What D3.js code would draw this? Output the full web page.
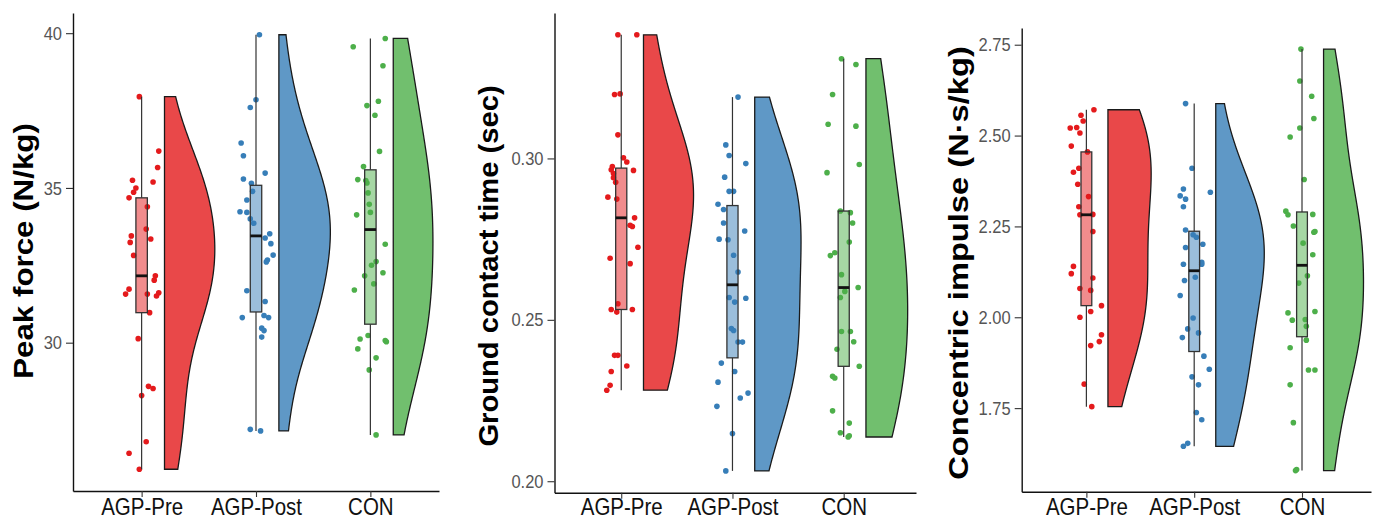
<!DOCTYPE html>
<html>
<head>
<meta charset="utf-8">
<script src="https://cdn.jsdelivr.net/npm/d3@7"></script>
<style>
  body { margin: 0; background: #fff; }
  svg { display: block; font-family: "Liberation Sans", Arial, sans-serif; }
</style>
</head>
<body>
<div id="chart"></div>
<script>
const categories = ['AGP-Pre', 'AGP-Post', 'CON'];

// Peak force (N/kg): values and horizontal jitter (hundredths of a category)
const peakPre = [37.95, 36.19, 35.66, 35.25, 35.00, 34.86, 34.68, 35.19, 34.39, 33.67, 33.45, 33.24, 33.35, 32.82, 32.16,
	32.02, 31.73, 31.57, 31.57, 31.61, 31.51, 30.97, 30.13, 28.59, 28.52, 28.29, 26.80, 26.43, 25.91];
const peakPreJit = [-2, 15, 14, -8, -5, -7, -11, 10, 5, 4, -9, -10, 8, -7, 12, 11, -11, -14, 5, 15, 13, 7, -3, 6, 10, 0, 4, -11, -2];
const peakPost = [39.95, 37.85, 37.60, 36.45, 36.04, 35.48, 35.29, 35.15, 34.89, 34.61, 34.23, 34.21, 34.00, 33.86, 33.52,
	33.38, 33.20, 32.83, 32.67, 32.61, 31.68, 31.33, 30.81, 30.88, 30.81, 30.47, 30.39, 30.18, 27.20, 27.15];
const peakPostJit = [3, 0, -5, -13, -11, 8, -11, -4, -3, -8, -14, -8, -5, -2, 12, 8, 13, 15, 10, 9, -8, 8, -12, 7, 11, 5, 7, 5, -5, 4];
const peakCon = [39.83, 39.56, 38.95, 37.80, 37.66, 37.35, 36.18, 35.69, 35.27, 35.24, 35.16, 34.84, 34.47, 34.21, 34.13,
	33.18, 32.62, 32.50, 32.26, 32.16, 31.90, 31.70, 30.23, 30.12, 30.07, 30.03, 29.80, 29.51, 29.12, 27.02];
const peakConJit = [13, -15, 11, 7, -3, 4, 8, -6, -11, -4, -3, -2, -1, 0, -12, 13, 5, 1, 11, -5, 3, -14, -2, -9, 13, 14, -11, 5, -1, 5];

// Ground contact time (sec)
const contactPre = [0.3383, 0.3383, 0.3198, 0.3200, 0.3073, 0.3002, 0.2989, 0.2975, 0.2965, 0.2963, 0.2953, 0.2940, 0.2926,
	0.2880, 0.2874, 0.2816, 0.2793, 0.2789, 0.2725, 0.2691, 0.2674, 0.2550, 0.2532, 0.2524, 0.2532, 0.2390, 0.2390, 0.2357,
	0.2340, 0.2297, 0.2282];
const contactPreJit = [-3, 14, -6, -1, -3, 2, 5, -8, -9, 11, -7, -7, -5, -12, -4, 12, 8, 10, 15, -10, 8, -3, -9, -4, 10, -6, -3,
	5, -9, -10, -13];
const contactPost = [0.3190, 0.3042, 0.3009, 0.2984, 0.2942, 0.2898, 0.2898, 0.2858, 0.2842, 0.2800, 0.2775, 0.2750, 0.2748,
	0.2700, 0.2648, 0.2569, 0.2555, 0.2567, 0.2473, 0.2467, 0.2431, 0.2431, 0.2366, 0.2340, 0.2307, 0.2273, 0.2258, 0.2232,
	0.2148, 0.2032];
const contactPostJit = [5, -6, -3, 12, -7, -3, 1, -13, -8, -8, 11, -12, -4, 1, 5, -3, 2, 12, -1, 1, 5, 9, -10, 2, -13, 14, 7, -14, 0, -6];
const contactCon = [0.3309, 0.3291, 0.3198, 0.3106, 0.3100, 0.2981, 0.2956, 0.2837, 0.2832, 0.2800, 0.2741, 0.2708, 0.2699,
	0.2640, 0.2600, 0.2588, 0.2569, 0.2464, 0.2464, 0.2432, 0.2409, 0.2356, 0.2325, 0.2320, 0.2218, 0.2180, 0.2150, 0.2137,
	0.2141];
const contactConJit = [-2, 11, -10, -14, 11, 14, -15, -3, 6, 8, 5, -8, -12, -2, 13, 1, -3, -2, 6, 9, -6, 14, -10, -8, -10, 5, -3, 4, 5];

// Concentric impulse (N·s/kg)
const impulsePre = [2.571, 2.556, 2.540, 2.521, 2.522, 2.507, 2.471, 2.455, 2.410, 2.399, 2.366, 2.332, 2.304, 2.282, 2.283,
	2.236, 2.140, 2.120, 2.108, 2.079, 2.074, 2.032, 2.016, 2.000, 1.952, 1.933, 1.922, 1.816, 1.754];
const impulsePreJit = [7, -5, -3, -15, -9, -6, -14, 1, -7, -12, -8, 2, -7, -6, 6, 6, -12, -14, 6, -6, 4, 14, 4, -6, 14, 12, 4, -2, 5];
const impulsePost = [2.588, 2.410, 2.344, 2.353, 2.334, 2.325, 2.304, 2.240, 2.227, 2.220, 2.201, 2.192, 2.146, 2.151, 2.146,
	2.110, 2.101, 2.060, 1.998, 1.968, 1.957, 1.944, 1.893, 1.857, 1.836, 1.814, 1.738, 1.718, 1.645, 1.653];
const impulsePostJit = [-8, -2, 15, -10, -13, -8, -10, -8, -1, 2, 8, -8, -10, 7, 7, 1, -9, -13, -1, -6, 4, -11, 9, 14, -2, 4, 2, 7, -10, -6];
const impulseCon = [2.738, 2.650, 2.608, 2.547, 2.521, 2.496, 2.379, 2.292, 2.282, 2.283, 2.251, 2.234, 2.236, 2.204, 2.172,
	2.114, 2.094, 2.012, 1.992, 2.016, 1.994, 1.975, 1.937, 1.916, 1.855, 1.855, 1.814, 1.710, 1.581, 1.578];
const impulseConJit = [-1, -2, 9, 11, -2, -11, 2, -15, -13, 10, -8, 11, 12, 1, 10, 5, -3, -13, -9, 12, 3, 4, 4, -11, 6, 12, -11, -8, -5, -6];

const peakTicks = [30, 35, 40];
const contactTicks = [0.20, 0.25, 0.30];
const impulseTicks = [1.75, 2.00, 2.25, 2.50, 2.75];

const titles = ['Peak force (N/kg)', 'Ground contact time (sec)', 'Concentric impulse (N·s/kg)'];

const pointColors = ['#E41A1C', '#377EB8', '#4DAF4A'];

const panels = [
	{ title: titles[0], values: [peakPre, peakPost, peakCon], jitter: [peakPreJit, peakPostJit, peakConJit],
		ticks: peakTicks, fmt: d3.format('d'), left: 73, right: 439, top: 13, bottom: 491, xmax: 3.6,
		titleX: 33, titleY: 251, titleStretch: 1.16 },
	{ title: titles[1], values: [contactPre, contactPost, contactCon], jitter: [contactPreJit, contactPostJit, contactConJit],
		ticks: contactTicks, fmt: d3.format('.2f'), left: 554.5, right: 916, top: 13, bottom: 492.7, xmax: 3.65,
		titleX: 497.5, titleY: 266, titleStretch: 1.08 },
	{ title: titles[2], values: [impulsePre, impulsePost, impulseCon], jitter: [impulsePreJit, impulsePostJit, impulseConJit],
		ticks: impulseTicks, fmt: d3.format('.2f'), left: 1021.7, right: 1371, top: 28, bottom: 491.7, xmax: 3.64,
		titleX: 967.5, titleY: 263, titleStretch: 1.21 },
];

const textStretch = 1.15;
const labelBaseline = 515;
const bwAdjust = 1.3;

const svg = d3.select('#chart').append('svg').attr('width', 1378).attr('height', 521);
svg.append('rect').attr('width', 1378).attr('height', 521).attr('fill', '#fff');

// gaussian kernel density, bandwidth like R's bw.nrd0
const nrd0 = (v) => {
	const s = d3.sort(v);
	const sd = d3.deviation(s);
	const iqr = (d3.quantileSorted(s, 0.75) - d3.quantileSorted(s, 0.25)) / 1.34;
	return 0.9 * Math.min(sd, iqr) * Math.pow(s.length, -0.2);
};
const density = (v, bw, ys) =>
	ys.map((y) => [y, d3.mean(v, (d) => Math.exp(-0.5 * ((y - d) / bw) ** 2)) / (bw * Math.sqrt(2 * Math.PI))]);

panels.forEach((p) => {
	const all = p.values.flat();
	const [lo, hi] = d3.extent(all);
	const pad = (hi - lo) * 0.05;

	const x = d3.scaleLinear().domain([0.4, p.xmax]).range([p.left, p.right]);
	const y = d3.scaleLinear().domain([lo - pad, hi + pad]).range([p.bottom, p.top]);
	const unit = x(2) - x(1);

	const g = svg.append('g');

	// half violins (scale = "area": shared max density within the panel)
	const dens = p.values.map((v) => {
		const [a, b] = d3.extent(v);
		const ys = d3.range(512).map((i) => a + ((b - a) * i) / 511);
		return density(v, nrd0(v) * bwAdjust, ys);
	});
	const maxD = d3.max(dens.flat(), (d) => d[1]);

	dens.forEach((dd, i) => {
		const x0 = x(i + 1 + 0.2);
		const pts = dd.map((d) => [x0 + (d[1] / maxD) * 0.45 * unit, y(d[0])]);
		pts.push([x0, y(dd[dd.length - 1][0])]);
		pts.push([x0, y(dd[0][0])]);
		g.append('path')
			.attr('d', d3.line()(pts) + 'Z')
			.attr('fill', pointColors[i])
			.attr('fill-opacity', 0.8)
			.attr('stroke', '#1a1a1a')
			.attr('stroke-width', 1.3);
	});

	// jittered points
	p.values.forEach((v, i) => {
		g.selectAll(null)
			.data(v)
			.enter()
			.append('circle')
			.attr('cx', (d, k) => x(i + 1 + p.jitter[i][k] / 100))
			.attr('cy', (d) => y(d))
			.attr('r', 2.8)
			.attr('fill', pointColors[i]);
	});

	// boxplots
	p.values.forEach((v, i) => {
		const s = d3.sort(v);
		const q1 = d3.quantileSorted(s, 0.25);
		const med = d3.quantileSorted(s, 0.5);
		const q3 = d3.quantileSorted(s, 0.75);
		const iqr = q3 - q1;
		const wLo = d3.min(s.filter((d) => d >= q1 - 1.5 * iqr));
		const wHi = d3.max(s.filter((d) => d <= q3 + 1.5 * iqr));
		const cx = x(i + 1);
		const hw = 0.05 * unit;

		g.append('line').attr('x1', cx).attr('x2', cx).attr('y1', y(q3)).attr('y2', y(wHi))
			.attr('stroke', '#333').attr('stroke-width', 1.2);
		g.append('line').attr('x1', cx).attr('x2', cx).attr('y1', y(q1)).attr('y2', y(wLo))
			.attr('stroke', '#333').attr('stroke-width', 1.2);
		g.append('rect')
			.attr('x', cx - hw).attr('width', 2 * hw)
			.attr('y', y(q3)).attr('height', y(q1) - y(q3))
			.attr('fill', pointColors[i]).attr('fill-opacity', 0.5)
			.attr('stroke', '#333').attr('stroke-width', 1.3);
		g.append('line').attr('x1', cx - hw).attr('x2', cx + hw).attr('y1', y(med)).attr('y2', y(med))
			.attr('stroke', '#111').attr('stroke-width', 2.8);
	});

	// axes
	const yAxis = g.append('g')
		.attr('transform', `translate(${p.left},0)`)
		.call(d3.axisLeft(y).tickValues(p.ticks).tickFormat(p.fmt).tickSize(7).tickSizeOuter(0).tickPadding(4));
	yAxis.select('.domain').attr('stroke', '#111').attr('stroke-width', 1.4);
	yAxis.selectAll('.tick line').attr('stroke', '#333').attr('stroke-width', 1.1);
	yAxis.selectAll('.tick text')
		.attr('fill', '#555')
		.style('font-size', '16.5px')
		.attr('transform', `scale(1,${textStretch})`);

	const xAxis = g.append('g')
		.attr('transform', `translate(0,${p.bottom})`)
		.call(d3.axisBottom(x).tickValues([1, 2, 3]).tickFormat((d) => categories[d - 1]).tickSize(6).tickSizeOuter(0));
	xAxis.select('.domain').attr('stroke', '#111').attr('stroke-width', 1.4);
	xAxis.selectAll('.tick line').attr('stroke', '#333').attr('stroke-width', 1.1);
	xAxis.selectAll('.tick text')
		.attr('fill', '#111')
		.style('font-size', '20.5px')
		.attr('dy', null)
		.attr('y', (labelBaseline - p.bottom) / textStretch)
		.attr('transform', `scale(1,${textStretch})`);

	// y title
	g.append('text')
		.attr('transform', `translate(${p.titleX},${p.titleY}) rotate(-90) scale(${p.titleStretch},1)`)
		.attr('text-anchor', 'middle')
		.style('font-size', '27px')
		.style('font-weight', 'bold')
		.attr('fill', '#000')
		.text(p.title);
});
</script>
</body>
</html>
